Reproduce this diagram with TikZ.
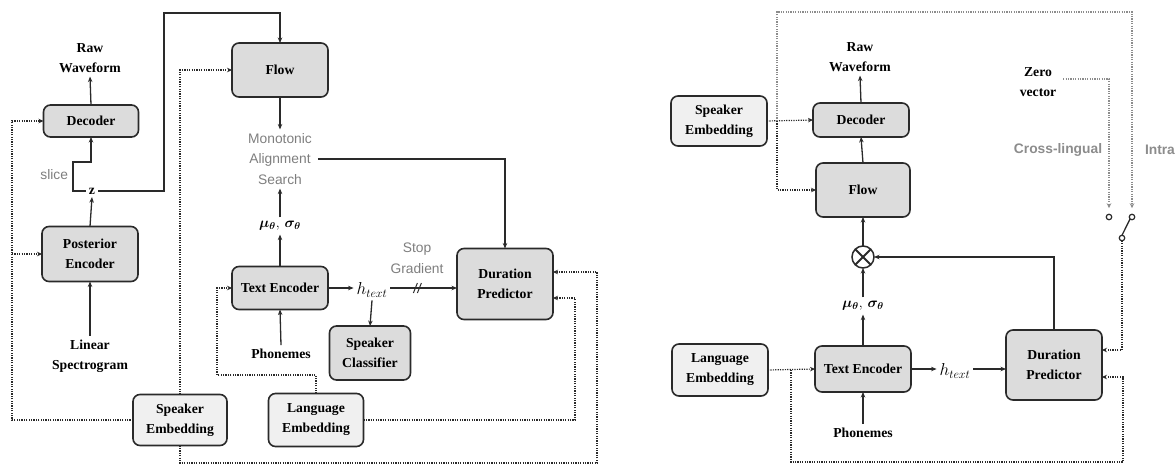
\documentclass[tikz,border=0pt]{standalone}
\usepackage{fontspec}
\usepackage{amsmath,bm}
\setmainfont{Liberation Serif}
\newfontfamily\labelsans{Liberation Sans}
\usetikzlibrary{arrows.meta,calc}

\definecolor{edge}{HTML}{2A2A2A}
\definecolor{boxfill}{HTML}{DCDCDC}
\definecolor{embfill}{HTML}{F0F0F0}
\definecolor{notegray}{HTML}{7E7E7E}
\definecolor{railgray}{HTML}{8C8C8C}

\begin{document}
\begin{tikzpicture}[x=1pt,y=-1pt,
  every node/.style={inner sep=0pt,outer sep=0pt},
  block/.style={draw=edge,line width=1.6pt,rounded corners=7pt,fill=boxfill,
    align=center,font=\fontsize{13.7}{20}\selectfont\bfseries},
  embed/.style={block,fill=embfill},
  word/.style={align=center,font=\fontsize{13.7}{20}\selectfont\bfseries,inner sep=4pt},
  remark/.style={align=center,text=notegray,font=\fontsize{13.8}{20.5}\selectfont\labelsans,inner sep=4pt},
  link/.style={draw=edge,line width=1.3pt,-{Stealth[length=5.5pt,width=4.5pt]}},
  plain/.style={draw=edge,line width=1.3pt},
  dotlink/.style={draw=edge,line width=1.2pt,dash pattern=on 1.2pt off 1.2pt,-{Stealth[length=5pt,width=4.5pt]}},
  greylink/.style={draw=railgray,line width=1.2pt,dash pattern=on 1.2pt off 1.2pt,-{Stealth[length=5pt,width=4.5pt]}},
  pole/.style={circle,draw=edge,line width=1.2pt,minimum size=5.5pt,fill=white}
]
\useasboundingbox (0,0) rectangle (1176,464);

% ---------------- training architecture ----------------
\node[word] (rawL) at (90,58) {Raw\\Waveform};
\node[block,minimum width=95pt,minimum height=32pt] (decL) at (91,121) {Decoder};
\node[word,inner sep=3pt] (zL) at (92,191) {z};
\node[block,minimum width=96pt,minimum height=55pt] (postL) at (90,254) {Posterior\\Encoder};
\node[word] (linL) at (90,356) {Linear\\Spectrogram};
\node[remark,anchor=east] (sliceL) at (72,175) {slice};

\node[block,minimum width=96pt,minimum height=54pt] (flowL) at (280,70) {Flow};
\node[remark] (masL) at (280,159) {Monotonic\\Alignment\\Search};
\node[word,font=\fontsize{14}{16}\selectfont] (muL) at (280,226) {$\bm{\mu_\theta},\,\bm{\sigma_\theta}$};
\node[block,minimum width=96pt,minimum height=43pt] (teL) at (280,288) {Text Encoder};
\node[word] (phL) at (281,354) {Phonemes};
\node[word,font=\fontsize{17}{18}\selectfont,inner sep=3pt] (htL) at (372,290) {$h_{text}$};
\node[block,minimum width=81pt,minimum height=54pt] (scL) at (370,353) {Speaker\\Classifier};
\node[block,minimum width=96pt,minimum height=71pt] (dpL) at (505,284) {Duration\\Predictor};
\node[remark] (sgL) at (417,258) {Stop\\Gradient};
\node[embed,minimum width=94pt,minimum height=51pt] (seL) at (180,420) {Speaker\\Embedding};
\node[embed,minimum width=95pt,minimum height=53pt] (leL) at (316,420) {Language\\Embedding};

% solid data paths
\draw[link] (decL.north) -- (rawL.south);
\draw[link] (zL.west) -- (73,191) -- (73,162) -- (91,162) -- (decL.south);
\draw[link] (postL.north) -- (zL.south);
\draw[link] (linL.north) -- (postL.south);
\draw[link] (zL.east) -| (164,13) -| (flowL.north);
\draw[link] (flowL.south) -- (masL.north);
\draw[link] (muL.north) -- (masL.south);
\draw[link] (teL.north) -- (muL.south);
\draw[link] (phL.north) -- (teL.south);
\draw[link] (teL.east) -- (teL.east -| htL.west);
\draw[link] (htL.east |- teL.east) -- (teL.east -| dpL.west) coordinate[pos=0.42] (cutL);
\draw[plain,line width=1pt] ($(cutL)+(-5,5)$) -- ($(cutL)+(-1,-5)$);
\draw[plain,line width=1pt] ($(cutL)+(-1,5)$) -- ($(cutL)+(3,-5)$);
\draw[link] (htL.south) -- (scL.north);
\draw[link] ($(masL.east)+(2,0)$) -| (dpL.north);

% conditioning paths
\draw[dotlink] (seL.north) |- (flowL.west);
\coordinate (railL) at (12,254);
\draw[dotlink] (seL.west) -| (12,121) -- (decL.west);
\draw[dotlink] (railL) -- (postL.west);
\draw[dotlink] (seL.south) |- (597,463) |- ($(dpL.east)+(0,-12)$);
\draw[dotlink] (leL.east) -| (575,298) -- ($(dpL.east)+(0,14)$);
\draw[dotlink] (leL.north) |- (217,375) |- (teL.west);

% ---------------- inference architecture ----------------
\node[word] (rawR) at (860,57) {Raw\\Waveform};
\node[block,minimum width=96pt,minimum height=34pt] (decR) at (861,120) {Decoder};
\node[block,minimum width=94pt,minimum height=54pt] (flowR) at (863,190) {Flow};
\node[circle,draw=edge,line width=1.5pt,minimum size=22pt] (mulR) at (863,257) {};
\draw[edge,line width=2pt] (mulR.north east) -- (mulR.south west);
\draw[edge,line width=2pt] (mulR.north west) -- (mulR.south east);
\node[word,font=\fontsize{14}{16}\selectfont] (muR) at (863,306) {$\bm{\mu_\theta},\,\bm{\sigma_\theta}$};
\node[block,minimum width=96pt,minimum height=46pt] (teR) at (863,369) {Text Encoder};
\node[word] (phR) at (863,433) {Phonemes};
\node[embed,minimum width=96pt,minimum height=52pt] (leR) at (720,370) {Language\\Embedding};
\node[embed,minimum width=96pt,minimum height=50pt] (seR) at (719,121) {Speaker\\Embedding};
\node[word,font=\fontsize{17}{18}\selectfont,inner sep=3pt] (htR) at (955,371) {$h_{text}$};
\node[block,minimum width=96pt,minimum height=70pt] (dpR) at (1054,365) {Duration\\Predictor};

\node[word,inner sep=2pt] (zeroR) at (1038,82) {Zero\\vector};
\node[remark,font=\fontsize{13.8}{20}\selectfont\labelsans\bfseries,text=railgray] (crossR) at (1058,150) {Cross-lingual};
\node[remark,font=\fontsize{13.8}{20}\selectfont\labelsans\bfseries,text=railgray,anchor=west,inner sep=0pt] (intraR) at (1145,150) {Intra};

% switch between the two speaker inputs
\node[pole] (swA) at (1109,217) {};
\node[pole] (swB) at (1132,217) {};
\node[pole] (swC) at (1122,238) {};
\draw[edge,line width=1.3pt] (swC.north) -- (swB.south west);

\draw[link] (decR.north) -- (rawR.south);
\draw[link] (flowR.north) -- (decR.south);
\draw[link] (mulR.north) -- (flowR.south);
\draw[link] (muR.north) -- (mulR.south);
\draw[link] (teR.north) -- (muR.south);
\draw[link] (phR.north) -- (teR.south);
\draw[link] (teR.east) -- (teR.east -| htR.west);
\draw[link] (htR.east |- teR.east) -- (teR.east -| dpR.west);
\draw[link] (dpR.north) |- (mulR.east);

\coordinate (railR) at (777,121);
\draw[dotlink] (seR.east) -- (decR.west);
\draw[dotlink] (railR) |- (flowR.west);
\draw[greylink,shorten >=6pt] (railR) |- (1132,12) -- (swB.north);
\draw[greylink,shorten >=6pt] ($(zeroR.east)+(5,-3)$) -| (swA.north);
\draw[dotlink] (swC.south) |- ($(dpR.east)+(0,-15)$);
\coordinate (langR) at (791,370);
\draw[dotlink] (leR.east) -- (teR.west);
\draw[dotlink] (langR) |- (1123,462) |- ($(dpR.east)+(0,12)$);
\end{tikzpicture}
\end{document}
